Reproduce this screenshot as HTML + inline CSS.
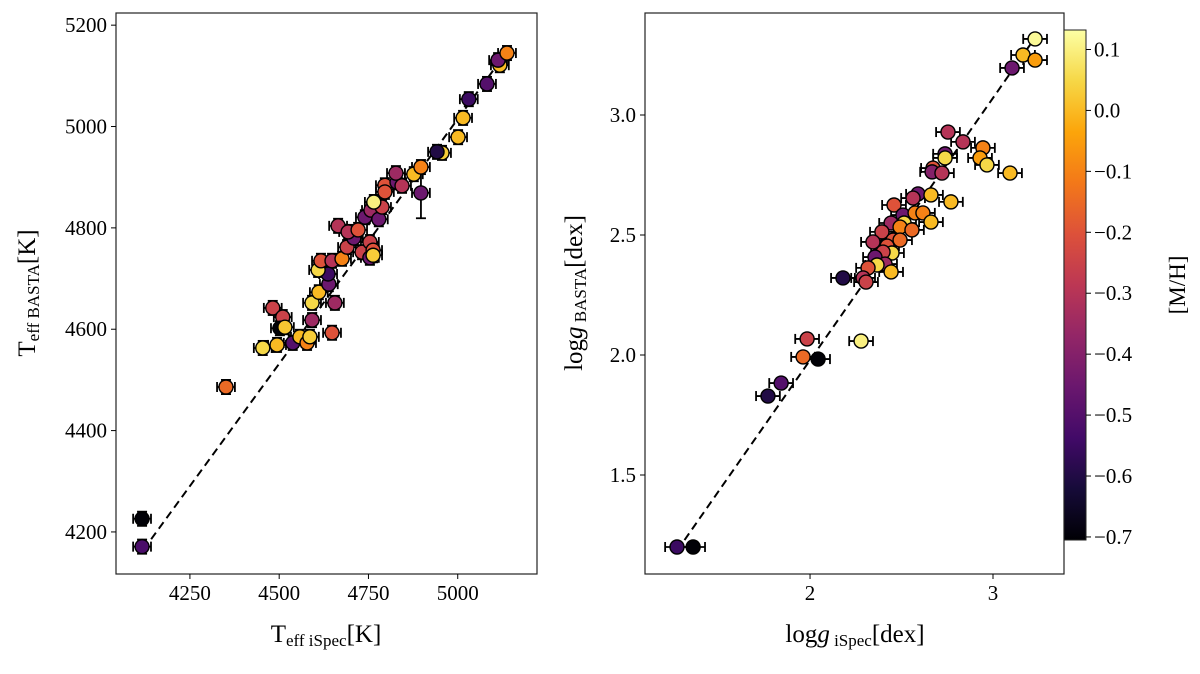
<!DOCTYPE html>
<html><head><meta charset="utf-8"><style>
body{margin:0;background:#fff;}
svg text{font-family:"Liberation Serif",serif;fill:#000;}
</style></head><body>
<svg id="fig" width="1200" height="669" xmlns="http://www.w3.org/2000/svg"></svg>
<script>
// Left panel data (Teff)
const leftX=[4116,4116,4351,4482,4510,4502,4516,4454,4494,4538,4558,4578,4586,4648,4592,4592,4611,4639,4637,4609,4617,4648,4676,4656,4690,4709,4665,4693,4721,4732,4754,4763,4754,4763,4740,4757,4779,4788,4765,4796,4796,4830,4827,4844,4877,4897,4897,4956,4942,5001,5015,5031,5082,5118,5113,5138];
const leftY=[4171,4226,4486,4642,4624,4602,4604,4563,4569,4573,4585,4573,4585,4593,4618,4652,4673,4689,4709,4717,4735,4735,4739,4652,4762,4780,4804,4792,4796,4752,4772,4756,4741,4746,4821,4835,4817,4841,4851,4884,4871,4890,4908,4883,4906,4920,4869,4948,4950,4979,5017,5054,5084,5121,5131,5145];
const leftM=[-0.52,-0.7,-0.15,-0.25,-0.25,-0.7,0.02,0.05,0.0,-0.5,0.0,-0.1,0.03,-0.2,-0.35,0.05,0.0,-0.45,-0.55,0.05,-0.2,-0.3,-0.1,-0.35,-0.25,-0.45,-0.3,-0.3,-0.2,-0.25,-0.25,-0.2,-0.45,0.03,-0.45,-0.35,-0.45,-0.25,0.1,-0.2,-0.2,-0.45,-0.35,-0.3,0.0,-0.1,-0.45,0.03,-0.6,0.0,0.0,-0.55,-0.5,0.0,-0.45,-0.1];
const leftXTicks=[4250,4500,4750,5000];
const leftYTicks=[4200,4400,4600,4800,5000,5200];
const leftLine=[[4120,4165],[5140,5150]];
// Right panel data (logg)
const rightX=[1.273,1.361,1.770,1.842,1.962,2.044,1.984,2.279,3.230,3.164,3.230,3.104,2.836,2.945,2.929,2.967,3.093,2.754,2.738,2.738,2.672,2.667,2.721,2.590,2.563,2.661,2.770,2.459,2.508,2.574,2.617,2.661,2.443,2.514,2.492,2.557,2.393,2.344,2.454,2.492,2.421,2.448,2.399,2.355,2.410,2.366,2.317,2.443,2.180,2.290,2.306];
const rightY=[1.200,1.200,1.829,1.883,1.992,1.983,2.067,2.058,3.317,3.250,3.229,3.196,2.888,2.863,2.821,2.792,2.758,2.929,2.838,2.821,2.779,2.763,2.758,2.671,2.654,2.667,2.638,2.625,2.583,2.592,2.592,2.554,2.550,2.550,2.533,2.521,2.513,2.471,2.479,2.479,2.454,2.425,2.429,2.408,2.379,2.375,2.363,2.346,2.321,2.321,2.304];
const rightM=[-0.55,-0.7,-0.6,-0.5,-0.15,-0.7,-0.25,0.1,0.12,0.0,-0.05,-0.45,-0.3,-0.1,-0.05,0.05,0.0,-0.3,-0.45,0.05,-0.2,-0.4,-0.3,-0.45,-0.3,0.0,0.0,-0.2,-0.45,-0.1,-0.1,0.0,-0.35,0.05,-0.1,-0.15,-0.25,-0.3,-0.2,-0.15,-0.2,0.05,-0.25,-0.45,-0.35,0.05,-0.2,0.0,-0.6,-0.3,-0.25];
const rightXTicks=[2,3];
const rightYTicks=[1.5,2.0,2.5,3.0];
const rightLine=[[1.314,1.229],[3.259,3.354]];
const cbTicks=[0.1,0.0,-0.1,-0.2,-0.3,-0.4,-0.5,-0.6,-0.7];

const NS="http://www.w3.org/2000/svg";
const svg=document.getElementById('fig');
function mk(tag,attrs,parent){const e=document.createElementNS(NS,tag);for(const k in attrs)e.setAttribute(k,attrs[k]);(parent||svg).appendChild(e);return e;}
const VMIN=-0.705,VMAX=0.132;
const stops=["#000004","#160b39","#420a68","#6a176e","#932667","#bc3754","#dd513a","#f37819","#fca50a","#f6d746","#fcffa4"];
function hex(h){return [1,3,5].map(i=>parseInt(h.substr(i,2),16));}
function cmap(v){let t=(v-VMIN)/(VMAX-VMIN);t=Math.max(0,Math.min(1,t));const f=t*10,i=Math.min(9,Math.floor(f)),r=f-i;const a=hex(stops[i]),b=hex(stops[i+1]);return 'rgb('+a.map((c,k)=>Math.round(c+(b[k]-c)*r)).join(',')+')';}
function lin(d0,d1,p0,p1){return v=>p0+(v-d0)/(d1-d0)*(p1-p0);}

function panel(cfg){
  const g=mk('g',{});
  
  
  const sx=lin(cfg.xd[0],cfg.xd[1],cfg.px[0],cfg.px[1]);
  const sy=lin(cfg.yd[0],cfg.yd[1],cfg.py[0],cfg.py[1]);
  // dashed line
  const ln=mk('line',{x1:sx(cfg.line[0][0]),y1:sy(cfg.line[0][1]),x2:sx(cfg.line[1][0]),y2:sy(cfg.line[1][1]),stroke:'#000','stroke-width':2,'stroke-dasharray':'8,5'},g);
  
  
  // error bars
  const eb=mk('g',{stroke:'#000','stroke-width':1.8},g);
  
  
  for(let i=0;i<cfg.x.length;i++){
    const cx=sx(cfg.x[i]),cy=sy(cfg.y[i]);
    const x0=sx(cfg.x[i]-cfg.xe),x1=sx(cfg.x[i]+cfg.xe);
    const ye=(cfg.bigY&&cfg.bigY.includes(i))?cfg.bigYe:cfg.ye;
    const y0=sy(cfg.y[i]-ye),y1=sy(cfg.y[i]+ye);
    mk('line',{x1:x0,y1:cy,x2:x1,y2:cy},eb);
    mk('line',{x1:x0,y1:cy-5,x2:x0,y2:cy+5},eb);
    mk('line',{x1:x1,y1:cy-5,x2:x1,y2:cy+5},eb);
    mk('line',{x1:cx,y1:y0,x2:cx,y2:y1},eb);
    mk('line',{x1:cx-5,y1:y0,x2:cx+5,y2:y0},eb);
    mk('line',{x1:cx-5,y1:y1,x2:cx+5,y2:y1},eb);
  }
  for(let i=0;i<cfg.x.length;i++){
    const c=mk('circle',{cx:sx(cfg.x[i]),cy:sy(cfg.y[i]),r:7,fill:cmap(cfg.m[i]),stroke:'#000','stroke-width':1.4},g);
    
    
  }
  // frame
  const fr=mk('rect',{x:cfg.px[0],y:cfg.py[1],width:cfg.px[1]-cfg.px[0],height:cfg.py[0]-cfg.py[1],fill:'none',stroke:'#222','stroke-width':1.2},g);
  
  
  cfg.xt.forEach(t=>{const x=sx(t);mk('line',{x1:x,y1:cfg.py[0],x2:x,y2:cfg.py[0]+5,stroke:'#000','stroke-width':1},g);
    const tx=mk('text',{x:x,y:cfg.py[0]+26,'text-anchor':'middle','font-size':21},g);tx.textContent=String(t);
    
    });
  cfg.yt.forEach(t=>{const y=sy(t);mk('line',{x1:cfg.px[0]-5,y1:y,x2:cfg.px[0],y2:y,stroke:'#000','stroke-width':1},g);
    const tx=mk('text',{x:cfg.px[0]-9,y:y+7,'text-anchor':'end','font-size':21},g);tx.textContent=cfg.yfmt(t);
    
    });
}
panel({name:'teff-panel',x:leftX,y:leftY,m:leftM,xd:[4043,5222],px:[116,537],yd:[4117,5224],py:[574,13],xt:leftXTicks,yt:leftYTicks,line:leftLine,xe:25,ye:14,bigY:[46],bigYe:50,yfmt:t=>String(t)});
panel({name:'logg-panel',x:rightX,y:rightY,m:rightM,xd:[1.098,3.388],px:[645,1064],yd:[1.0875,3.425],py:[574,13],xt:rightXTicks,yt:rightYTicks,line:rightLine,xe:0.065,ye:0.015,yfmt:t=>t.toFixed(1)});

// colorbar
const defs=mk('defs',{});
const grad=mk('linearGradient',{id:'inf',x1:0,y1:1,x2:0,y2:0},defs);
stops.forEach((s,i)=>mk('stop',{offset:(i/10),'stop-color':s},grad));
const cb=mk('rect',{x:1064,y:30,width:22,height:510,fill:'url(#inf)',stroke:'#222','stroke-width':1});


const cby=lin(VMIN,VMAX,540,30);
cbTicks.forEach(t=>{const y=cby(t);mk('line',{x1:1086,y1:y,x2:1091,y2:y,stroke:'#000','stroke-width':1});
  const tx=mk('text',{x:1094,y:y+7,'font-size':21});tx.textContent=(t<0?'\u2212':'')+Math.abs(t).toFixed(1);
  
  });
</script>
<svg style="position:absolute;left:0;top:0" width="1200" height="669" xmlns="http://www.w3.org/2000/svg">
<text x="326" y="642" text-anchor="middle" font-size="25" font-family="Liberation Serif,serif">T<tspan font-size="17" dy="4">eff  iSpec</tspan><tspan dy="-4">[K]</tspan></text>
<text x="855" y="642" text-anchor="middle" font-size="25" font-family="Liberation Serif,serif">log<tspan font-style="italic">g</tspan><tspan font-size="17" dy="4"> iSpec</tspan><tspan dy="-4">[dex]</tspan></text>
<text transform="translate(35,293) rotate(-90)" text-anchor="middle" font-size="25" font-family="Liberation Serif,serif">T<tspan font-size="17" dy="4">eff  BASTA</tspan><tspan dy="-4">[K]</tspan></text>
<text transform="translate(582,293) rotate(-90)" text-anchor="middle" font-size="25" font-family="Liberation Serif,serif">log<tspan font-style="italic">g</tspan><tspan font-size="17" dy="4"> BASTA</tspan><tspan dy="-4">[dex]</tspan></text>
<text transform="translate(1185,285) rotate(-90)" text-anchor="middle" font-size="23" font-family="Liberation Serif,serif">[M/H]</text>
</svg>
</body></html>
